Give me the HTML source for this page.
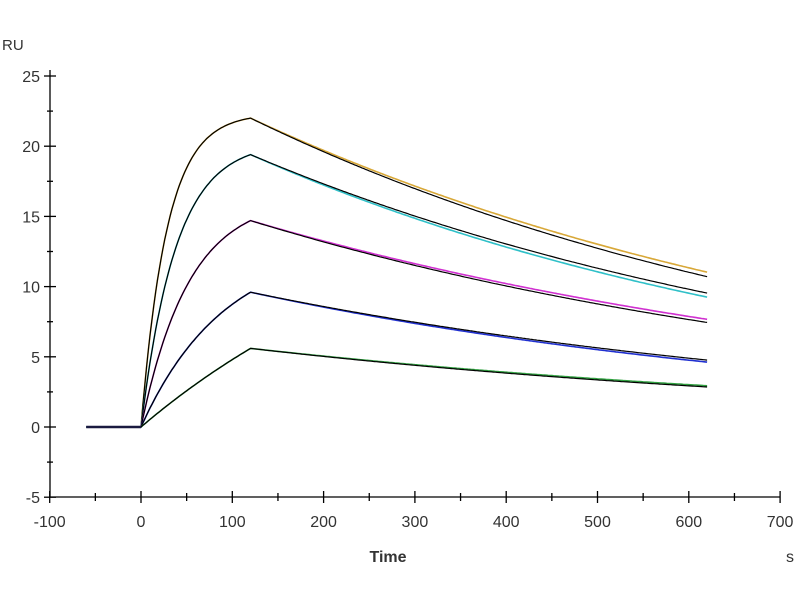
<!DOCTYPE html>
<html><head><meta charset="utf-8"><style>
body{margin:0;background:#fff;width:800px;height:600px;overflow:hidden}
text{font-family:"Liberation Sans",Arial,sans-serif;fill:#333}
</style></head><body>
<svg id="s" width="800" height="600" xmlns="http://www.w3.org/2000/svg">
<g stroke="#000" stroke-width="1.3" fill="none">
<line x1="50" y1="70" x2="50" y2="497"/>
<line x1="50" y1="497" x2="780" y2="497"/>
</g>
<g id="ticks" stroke="#000" stroke-width="1.3"></g>
<g font-size="16" text-anchor="end" id="yl"></g>
<g font-size="16" text-anchor="middle" id="xl"></g>
<text x="2" y="50" font-size="15">RU</text>
<text x="388" y="562" font-size="16" font-weight="bold" text-anchor="middle">Time</text>
<text x="790" y="562" font-size="16" text-anchor="middle">s</text>
<g id="curves" fill="none"></g>
</svg>
<script>
var NS="http://www.w3.org/2000/svg";
function X(t){return 141+t*0.913}
function Y(v){return 427-v*14.04}
function el(p,n,a,txt){var e=document.createElementNS(NS,n);for(var k in a)e.setAttribute(k,a[k]);if(txt!=null)e.textContent=txt;document.getElementById(p).appendChild(e);}
for(var v=-5;v<=25;v+=2.5){var y=Y(v);el("ticks","line",{x1:v%5==0?44:47,x2:v%5==0?56:53,y1:y,y2:y});if(v%5==0)el("yl","text",{x:40,y:y+6},v);}
for(var t=-100;t<=700;t+=50){var x=X(t);el("ticks","line",{x1:x,x2:x,y1:t%100==0?491:493,y2:t%100==0?503:501});if(t%100==0)el("xl","text",{x:x,y:527},t);}
var S=[[22,0.035,0.00144,"#d8a838"],[19.4,0.026,0.00142,"#30c0c8"],[14.7,0.019,0.00136,"#d030d0"],[9.6,0.011,0.0014,"#2030d0"],[5.6,0.003,0.00135,"#30a040"]];
S.forEach(function(s,i){
 var Req=s[0]/(1-Math.exp(-s[1]*120));
 function f(t,off){ if(t<0)return 0; if(t<=120)return Req*(1-Math.exp(-s[1]*t)); return s[0]*Math.exp(-s[2]*(t-120))*(1+off*(t-120)/500);}
 var d="",d2="";
 for(var t=-60;t<=620;t+=2){var v=f(t,0.03*(i%2?-1:1));d+=(t==-60?"M":"L")+X(t).toFixed(1)+","+Y(v).toFixed(1);}
 for(var t=0;t<=620;t+=2){var v=f(t,0);d2+=(t==0?"M":"L")+X(t).toFixed(1)+","+Y(v).toFixed(1);}
 el("curves","path",{d:d,stroke:s[3],"stroke-width":1.6});
 el("curves","path",{d:d2,stroke:"#000","stroke-width":1.2});
});
el("curves","path",{d:"M"+X(-60)+","+Y(0)+"L"+X(0)+","+Y(0),stroke:"#1a1a40","stroke-width":2.5});
</script>
</body></html>
